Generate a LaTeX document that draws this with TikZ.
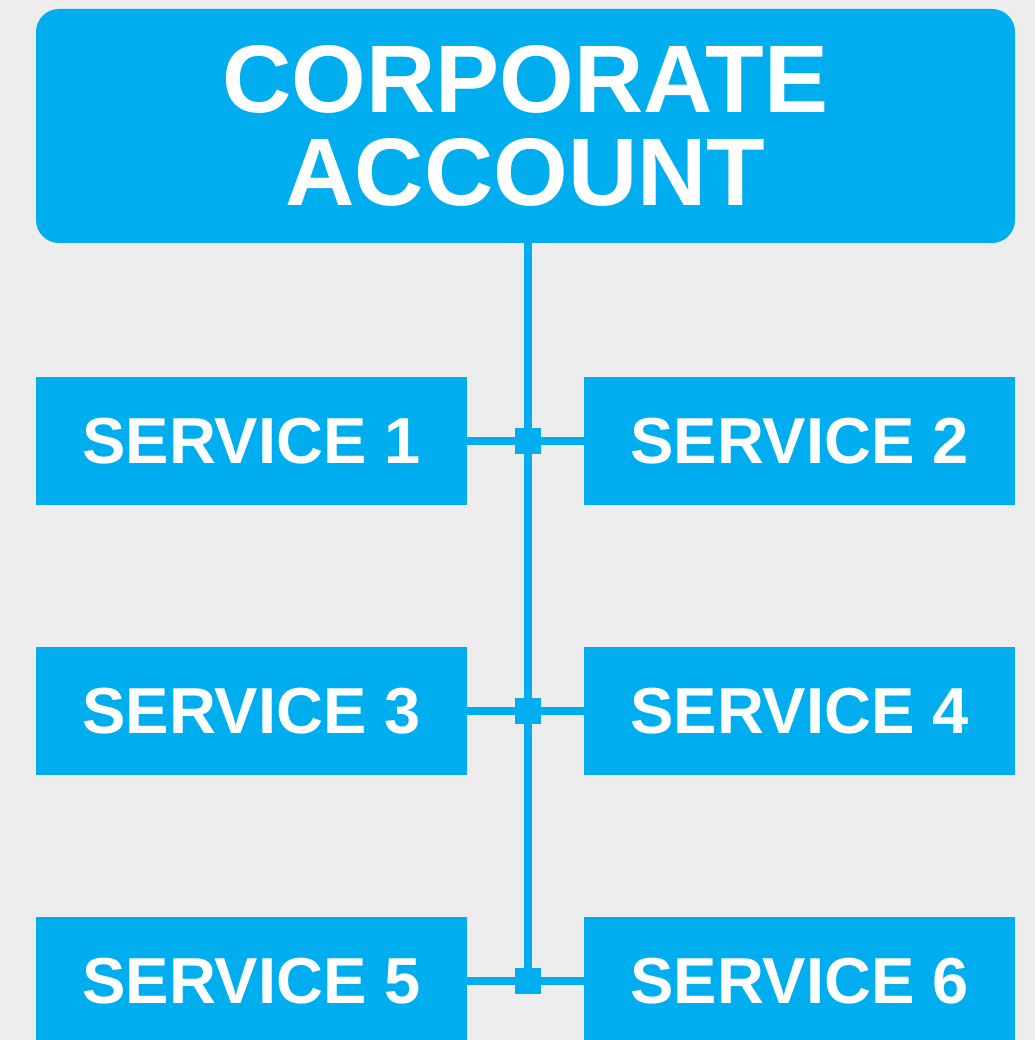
\documentclass[tikz,border=0pt]{standalone}
\usepackage{fontspec}
\setmainfont{Liberation Sans}
\usetikzlibrary{positioning}

\definecolor{acctblue}{RGB}{0,174,239}
\definecolor{pagegray}{RGB}{237,237,237}

\begin{document}
\begin{tikzpicture}[
    x=1pt, y=-1pt, % 以像素為單位, y 軸向下
    outer sep=0pt, % 無外部間距
    % --- 樣式定義 ---
    % 基本藍底白字方塊
    basic box/.style={
        fill=acctblue,
        text=white,
        align=center,
        inner sep=0pt,
        font=\bfseries
    },
    % 頂部帳戶方塊(圓角)
    header box/.style={
        basic box,
        minimum width=979pt,
        minimum height=234pt,
        rounded corners=23pt,
        font=\fontsize{96}{93}\selectfont\bfseries
    },
    % 服務方塊
    service box/.style={
        basic box,
        minimum width=431pt,
        minimum height=128pt,
        font=\fontsize{65}{70}\selectfont\bfseries
    },
    % 連接線
    link/.style={draw=acctblue, line width=8pt},
    % 交叉點小方塊
    junction/.style={fill=acctblue, minimum size=26pt, inner sep=0pt}
]

    % 背景與邊界
    \useasboundingbox (0,0) rectangle (1035,1040);
    \fill[pagegray] (0,0) rectangle (1035,1040);

    % ====== 頂部:Corporate account ======
    \node[header box] (corp) at (525.5,126) {CORPORATE\\ACCOUNT};

    % ====== 服務方塊 ======
    \node[service box, below=134pt of corp.south west, anchor=north west] (svc1) {SERVICE 1};
    \node[service box, right=117pt of svc1] (svc2) {SERVICE 2};
    \node[service box, below=142pt of svc1] (svc3) {SERVICE 3};
    \node[service box, right=117pt of svc3] (svc4) {SERVICE 4};
    \node[service box, below=142pt of svc3] (svc5) {SERVICE 5};
    \node[service box, right=117pt of svc5] (svc6) {SERVICE 6};

    % ====== 連接線 ======
    \coordinate (spine) at (528,0);
    \node[junction] (j1) at (spine |- svc1.east) {};
    \node[junction] (j2) at (spine |- svc3.east) {};
    \node[junction] (j3) at (spine |- svc5.east) {};

    \draw[link] (corp.south -| j1) -- (j3);
    \draw[link] (svc1.east) -- (svc2.west);
    \draw[link] (svc3.east) -- (svc4.west);
    \draw[link] (svc5.east) -- (svc6.west);

    % 交叉點蓋在線上
    \foreach \j in {j1,j2,j3}
        \fill[acctblue] (\j.north west) rectangle (\j.south east);

\end{tikzpicture}
\end{document}
